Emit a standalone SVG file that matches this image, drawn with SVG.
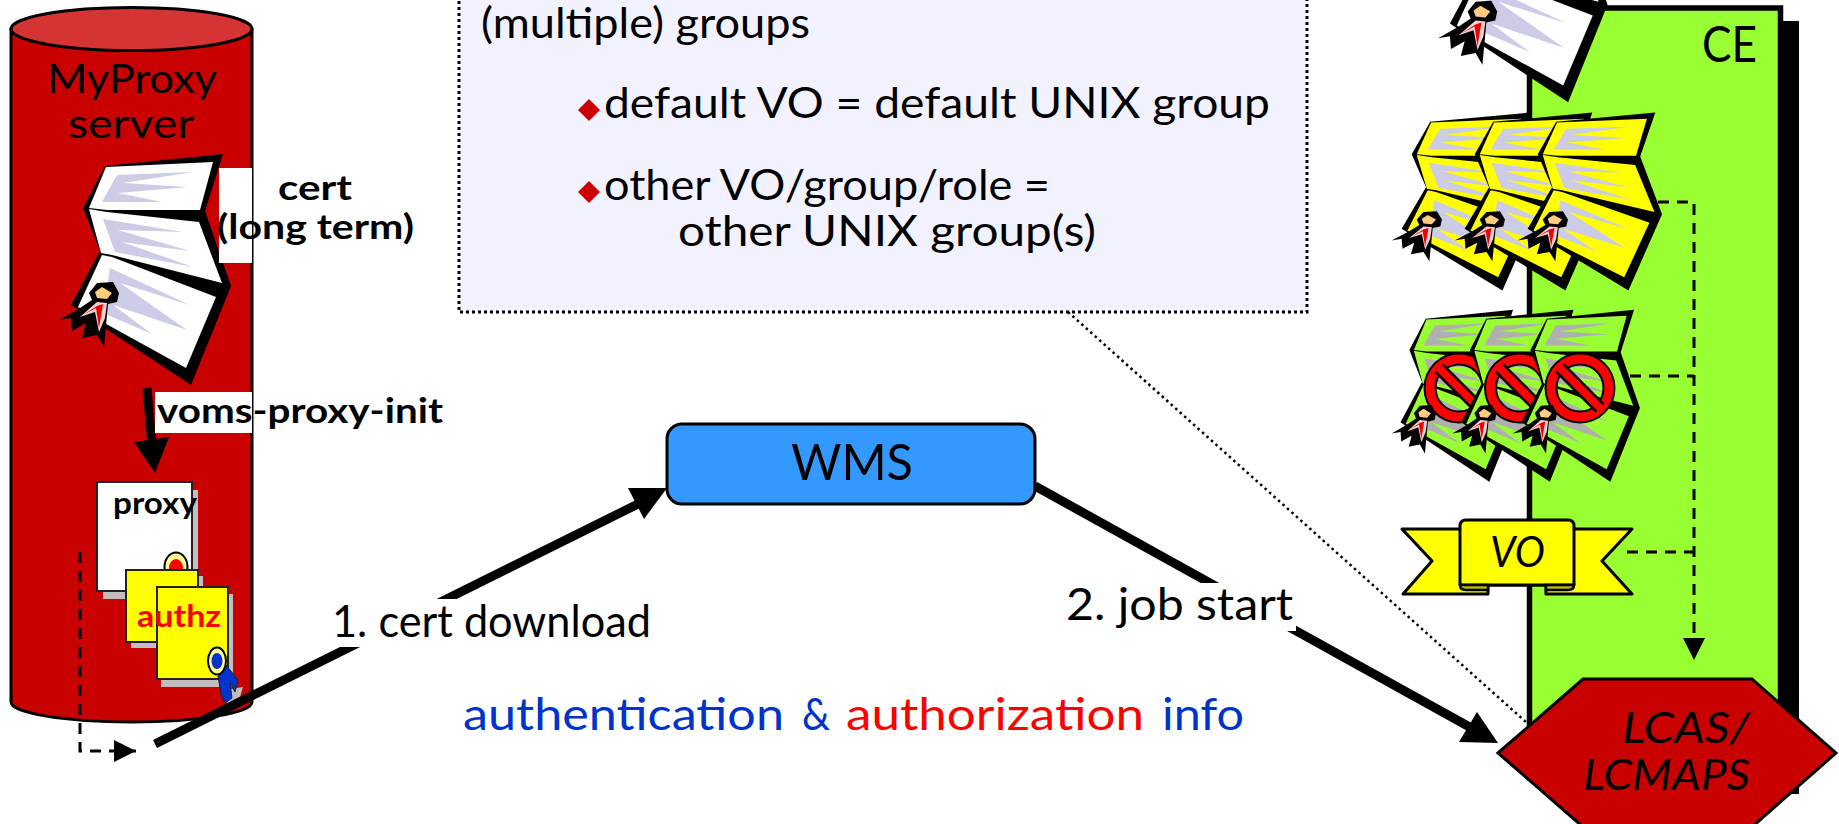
<svg xmlns="http://www.w3.org/2000/svg" xmlns:xlink="http://www.w3.org/1999/xlink" width="1839" height="824" viewBox="0 0 1839 824">
<style>
text{font-family:"Lato","Noto Sans","Liberation Sans",sans-serif;fill:#000}
.lg{font-size:42px}
.l2{font-size:44px}
.s40{font-size:40px}
.xl{font-size:51px}
.b{font-size:34px;font-weight:700}
.m{font-size:31px;font-weight:700}
.it{font-style:italic}
.blue{fill:#0033cc}
.red{fill:#ff0000}
.page{fill:var(--p,#fff)}
.ray{fill:var(--r,#ccccE6)}
.doc{stroke:#222;stroke-width:2}
.shadow{fill:#bfbfbf}
.thick{stroke:#000;stroke-width:9;fill:none}
.dash{stroke:#000;stroke-width:3;fill:none;stroke-dasharray:11 8}
.ban{fill:#ffff00;stroke:#000;stroke-width:3;stroke-linejoin:round}
</style>
<defs>
<g id="certBody">
<polygon points="105,166 223,154 205,211 231,286 191,385 103,327 71,305 100,251 83,208" fill="#000"/>
<polygon class="page" points="106,167 213,162 200,210 107,210 89,208"/>
<polygon class="page" points="89,209 107,212 199,222 222,283 112,255 101,253"/>
<polygon class="page" points="102,255 112,257 216,297 186,368 108,325 78,307"/>
<polygon class="ray" points="102,202 117,175 193,172 123,183 188,187 118,193 162,202"/>
<polygon class="ray" points="103,219 183,232 118,230 190,251 122,242 193,267 115,252"/>
<polygon class="ray" points="110,268 190,305 120,283 187,330 113,305 152,334 103,313"/>
</g>
<g id="certSeal">
<polygon fill="#000" points="89,293 97,283 113,282 119,293 117,302 108,304 104,347 97,335 82,338 86,323 72,331 71,318 59,320 80,308 92,300"/>
<polygon fill="#ffcc80" points="95,292 102,287 112,293 107,299 97,298"/>
<polygon fill="#f5d0d0" points="80,317 97,302 107,303 105,318 99,332 95,312"/>
<polygon fill="#ee0000" points="83,315 97,306 103,304 99,328 96,308"/>
</g>
<g id="noSign" fill="none">
<circle r="29" stroke="#000" stroke-width="13"/>
<circle r="29" stroke="#ff0000" stroke-width="9"/>
<line x1="-20" y1="-20" x2="20" y2="20" stroke="#000" stroke-width="13"/>
<line x1="-21" y1="-21" x2="21" y2="21" stroke="#ff0000" stroke-width="8"/>
</g>
<marker id="dashHead" markerUnits="userSpaceOnUse" markerWidth="24" markerHeight="24" refX="22" refY="11" orient="auto"><polygon points="0,0 22,11 0,22" fill="#000"/></marker>
</defs>

<g id="myproxy">
<path d="M11,29 V702 A120.500,20 0 0 0 252,702 V29 Z" fill="#c80000" stroke="#000" stroke-width="3"/>
<ellipse cx="131.500" cy="29" rx="120.500" ry="21.500" fill="#d63333" stroke="#000" stroke-width="3"/>
<text class="s40" x="47" y="93" textLength="170" lengthAdjust="spacingAndGlyphs">MyProxy</text>
<text class="s40" x="68" y="138" textLength="126" lengthAdjust="spacingAndGlyphs">server</text>
</g>
<g id="cert-long-term">
<use href="#certBody"/><use href="#certSeal"/>
<rect x="219" y="168" width="33" height="95" fill="#fff"/>
<text class="b" x="278" y="200" textLength="74" lengthAdjust="spacingAndGlyphs">cert</text>
<text class="b" x="217" y="239" textLength="197" lengthAdjust="spacingAndGlyphs">(long term)</text>
</g>
<g id="proxy">
<rect class="shadow" x="103" y="490" width="95" height="109"/>
<rect class="doc" x="97" y="482" width="95" height="109" fill="#fff"/>
<text class="m" x="113" y="514" textLength="84" lengthAdjust="spacingAndGlyphs">proxy</text>
<ellipse cx="176" cy="567" rx="11.500" ry="14.500" fill="#ffff99" stroke="#000" stroke-width="2"/>
<ellipse cx="176" cy="568" rx="7" ry="9" fill="#ff0000"/>
</g>
<g id="authz">
<rect class="shadow" x="131" y="576" width="72" height="72"/>
<rect class="doc" x="126" y="570" width="72" height="72" fill="#ffff00"/>
<rect class="shadow" x="161" y="594" width="72" height="93"/>
<polygon class="shadow" points="225,690 243,687 240,697 227,704"/>
<rect class="doc" x="157" y="587" width="71" height="92" fill="#ffff00"/>
<polygon fill="#0033cc" stroke="#222" points="218,676 226,665 238,680 235,692 230,683 232,698 225,703 221,695"/>
<ellipse cx="217" cy="661" rx="9" ry="13.500" fill="#ffff99" stroke="#000" stroke-width="2"/>
<ellipse cx="217" cy="661" rx="5.500" ry="8" fill="#0033cc"/>
<text class="m red" x="137" y="627" textLength="84" lengthAdjust="spacingAndGlyphs">authz</text>
</g>

<g id="callout">
<rect x="459" y="-6" width="848" height="318" fill="#f2f2ff" stroke="#000" stroke-width="3" stroke-dasharray="3 3"/>
<text class="lg" x="481" y="38" textLength="329" lengthAdjust="spacingAndGlyphs">(multiple) groups</text>
<polygon points="589,99 600,110 589,121 578,110" fill="#cc0000"/>
<text class="lg" x="604" y="118" textLength="666" lengthAdjust="spacingAndGlyphs">default VO = default UNIX group</text>
<polygon points="589,181 600,192 589,203 578,192" fill="#cc0000"/>
<text class="lg" x="604" y="200" textLength="446" lengthAdjust="spacingAndGlyphs">other VO/group/role =</text>
<text class="lg" x="678" y="246" textLength="418" lengthAdjust="spacingAndGlyphs">other UNIX group(s)</text>
</g>

<g id="ce">
<rect x="1543" y="21" width="256" height="773" fill="#000"/>
<rect x="1529.500" y="8" width="251" height="770" fill="#99ff33" stroke="#000" stroke-width="5.500"/>
<text class="xl" x="1702" y="62" textLength="55" lengthAdjust="spacingAndGlyphs">CE</text>
</g>

<g id="connectors">
<line x1="1068" y1="312" x2="1527" y2="723" stroke="#000" stroke-width="2.500" stroke-dasharray="2.500 3.500"/>
<path class="dash" d="M1658,202 H1694 V660" marker-end="url(#dashHead)"/>
<path class="dash" d="M1630,376 H1694"/>
<path class="dash" d="M1627,552 H1694"/>
<path class="dash" d="M80,552 V751 H136" marker-end="url(#dashHead)"/>
<line class="thick" x1="147" y1="388" x2="152" y2="445"/>
<polygon points="134,442 169,437 155,473"/>
<line class="thick" x1="155" y1="744" x2="640" y2="503"/>
<polygon points="628,488 667,488 644,519"/>
<line class="thick" x1="1035" y1="486" x2="1475" y2="730"/>
<polygon points="1477,712 1498,743 1459,742"/>
</g>

<g id="voms-proxy-init">
<rect x="155" y="392" width="97" height="41" fill="#fff"/>
<text class="b" x="157" y="423" textLength="286" lengthAdjust="spacingAndGlyphs">voms-proxy-init</text>
</g>
<g id="cert-download">
<rect x="330" y="599" width="325" height="48" fill="#fff"/>
<text class="l2" x="332" y="637" textLength="319" lengthAdjust="spacingAndGlyphs">1. cert download</text>
</g>
<g id="job-start">
<rect x="1062" y="583" width="234" height="48" fill="#fff"/>
<text class="l2" x="1066" y="620" textLength="227" lengthAdjust="spacingAndGlyphs">2. job start</text>
</g>

<g id="wms">
<rect x="667" y="424" width="368" height="80" rx="15" fill="#3399ff" stroke="#000" stroke-width="3"/>
<text class="xl" x="791" y="480" textLength="122" lengthAdjust="spacingAndGlyphs">WMS</text>
</g>

<g id="auth-info">
<text class="l2 blue" x="463" y="730" textLength="321" lengthAdjust="spacingAndGlyphs">authentication</text>
<text class="l2 blue" x="802" y="730" textLength="28" lengthAdjust="spacingAndGlyphs">&amp;</text>
<text class="l2 red" x="846" y="730" textLength="298" lengthAdjust="spacingAndGlyphs">authorization</text>
<text class="l2 blue" x="1162" y="730" textLength="82" lengthAdjust="spacingAndGlyphs">info</text>
</g>

<g id="user-cert">
<g transform="translate(1380,-277) scale(.985)"><use href="#certBody"/><use href="#certSeal"/></g>
</g>
<g id="valid-certs" style="--p:#ffff00">
<g transform="translate(1342,-6) scale(.84,.77)"><use href="#certBody"/><use href="#certSeal"/></g>
<g transform="translate(1405,-6) scale(.84,.77)"><use href="#certBody"/><use href="#certSeal"/></g>
<g transform="translate(1468,-6) scale(.84,.77)"><use href="#certBody"/><use href="#certSeal"/></g>
</g>
<g id="revoked-certs" style="--p:#99ff33;--r:#b0b0b0">
<g transform="translate(1348,195) scale(.74,.745)"><use href="#certBody"/></g>
<use href="#noSign" x="1459" y="388"/>
<g transform="translate(1348,195) scale(.74,.745)"><use href="#certSeal"/></g>
<g transform="translate(1408.500,195) scale(.74,.745)"><use href="#certBody"/></g>
<use href="#noSign" x="1519.500" y="388"/>
<g transform="translate(1408.500,195) scale(.74,.745)"><use href="#certSeal"/></g>
<g transform="translate(1469,195) scale(.74,.745)"><use href="#certBody"/></g>
<use href="#noSign" x="1580" y="388"/>
<g transform="translate(1469,195) scale(.74,.745)"><use href="#certSeal"/></g>
</g>

<g id="vo">
<polygon class="ban" points="1402,529 1632,529 1602,561 1632,594 1546,594 1546,585 1488,585 1488,594 1403,594 1432,561"/>
<path class="ban" d="M1460,585 V526 Q1460,520 1466,520 H1568 Q1574,520 1574,526 V585 Z"/>
<path d="M1460,585 Q1460,590 1466,590 H1488 V585 Z M1574,585 Q1574,590 1568,590 H1546 V585 Z" fill="#b8b800" stroke="#000" stroke-width="2.500"/>
<text class="lg it" x="1490" y="567" textLength="55" lengthAdjust="spacingAndGlyphs">VO</text>
</g>

<g id="lcas">
<polygon points="1498,753 1583,679 1752,679 1836,753 1752,827 1583,827" fill="#c80000" stroke="#000" stroke-width="3"/>
<text class="lg it" x="1622" y="743" textLength="128" lengthAdjust="spacingAndGlyphs">LCAS/</text>
<text class="lg it" x="1583" y="790" textLength="167" lengthAdjust="spacingAndGlyphs">LCMAPS</text>
</g>
</svg>
